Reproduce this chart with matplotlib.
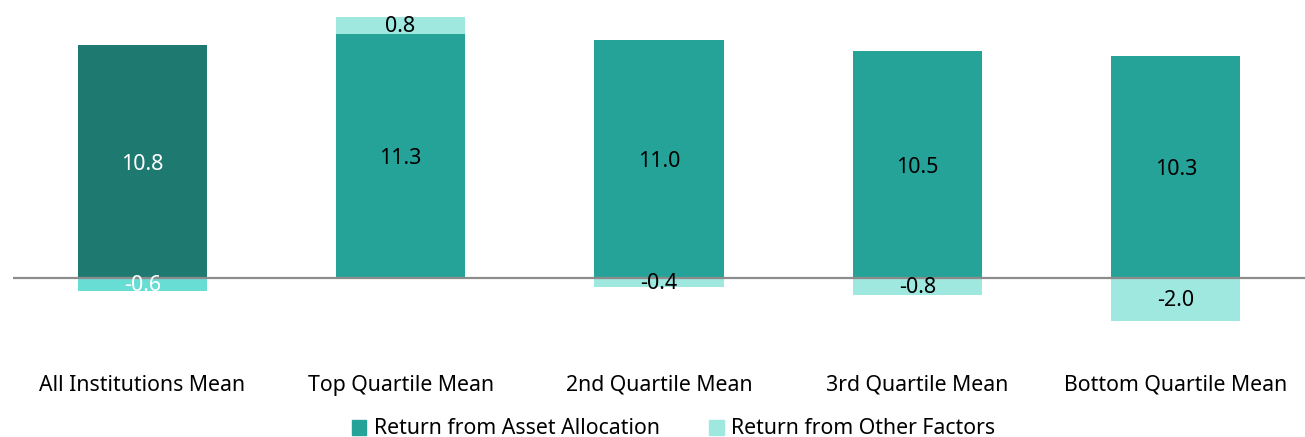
import matplotlib
matplotlib.use("Agg")
import matplotlib.pyplot as plt
from matplotlib.patches import Patch
import numpy as np

plt.rcParams['font.family'] = ['Noto Sans', 'DejaVu Sans']

categories = ["All Institutions Mean", "Top Quartile Mean", "2nd Quartile Mean",
              "3rd Quartile Mean", "Bottom Quartile Mean"]
asset_allocation = [10.8, 11.3, 11.0, 10.5, 10.3]
other_factors = [-0.6, 0.8, -0.4, -0.8, -2.0]
series_names = ["Return from Asset Allocation", "Return from Other Factors"]

W, H = 1305, 437
fig = plt.figure(figsize=(W / 100, H / 100), dpi=100)
ax = fig.add_axes([13 / W, (H - 343) / H, (W - 13) / W, 343 / H])

x = np.arange(len(categories))
asset = np.array(asset_allocation)
other = np.array(other_factors)

asset_colors = ['#1E7A71'] + ['#26A399'] * (len(categories) - 1)
other_colors = ['#68DDD4'] + ['#9EE8E0'] * (len(categories) - 1)

width = 0.5
ax.bar(x, asset, width=width, color=asset_colors, zorder=2)
other_bottom = np.where(other > 0, asset, 0)
ax.bar(x, other, width=width, bottom=other_bottom, color=other_colors, zorder=2)

ax.axhline(0, color='#8C8C8C', lw=1.6, zorder=3)

vfs = 15.5
fs = 15.3
for i in range(len(categories)):
    tc = 'white' if i == 0 else 'black'
    ax.text(x[i], asset[i] / 2 - 0.12, f"{asset[i]:.1f}", ha='center', va='center',
            fontsize=vfs, color=tc, zorder=4)
    ax.text(x[i], other_bottom[i] + other[i] / 2 - 0.05, f"{other[i]:.1f}", ha='center',
            va='center', fontsize=vfs, color=tc, zorder=4)

ax.set_xlim(-0.5, 4.5)
ax.set_ylim(-3.0, 278 / 21.6)
ax.set_xticks(x)
ax.set_xticklabels(categories, fontsize=fs)
ax.tick_params(axis='x', length=0, pad=23)
ax.set_yticks([])
for s in ax.spines.values():
    s.set_visible(False)

handles = [Patch(color='#26A399'), Patch(color='#9EE8E0')]
fig.legend(handles, series_names, loc='center', bbox_to_anchor=(0.516, 8 / H),
           ncol=2, frameon=False, fontsize=fs, handlelength=0.7, handleheight=0.7,
           handletextpad=0.35, columnspacing=2.3, borderpad=0)

fig.savefig("out.png", dpi=100)
